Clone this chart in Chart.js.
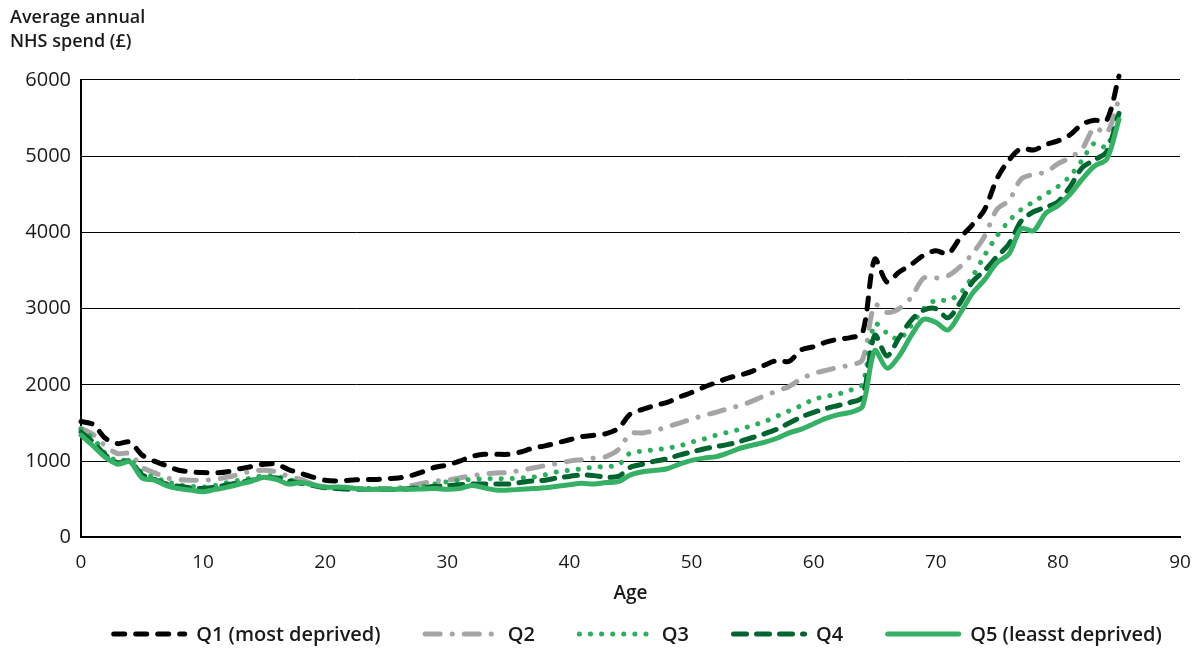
<!DOCTYPE html>
<html>
<head>
<meta charset="utf-8">
<script src="https://cdn.jsdelivr.net/npm/chart.js@4/dist/chart.umd.min.js"></script>
<style>
    html, body { margin: 0; padding: 0; background: #fff; }
    #wrap { width: 1199px; height: 649px; position: relative; }
</style>
</head>
<body>
<div id="wrap"><canvas id="spendChart"></canvas></div>
<script>
// Age in years (x axis)
const ages = [
    0, 1, 2, 3, 4, 5, 6, 7, 8, 9, 10, 11, 12, 13, 14, 15, 16, 17, 18, 19,
    20, 21, 22, 23, 24, 25, 26, 27, 28, 29, 30, 31, 32, 33, 34, 35, 36, 37, 38, 39,
    40, 41, 42, 43, 44, 45, 46, 47, 48, 49, 50, 51, 52, 53, 54, 55, 56, 57, 58, 59,
    60, 61, 62, 63, 64, 65, 66, 67, 68, 69, 70, 71, 72, 73, 74, 75, 76, 77, 78, 79,
    80, 81, 82, 83, 84, 85
];

// Average annual NHS spend (£) by deprivation quintile
const q1 = [
    1520, 1480, 1300, 1230, 1250, 1080, 1000, 940, 880, 860, 850, 845, 860, 900, 930, 960, 960, 890, 840, 790,
    750, 740, 750, 760, 760, 770, 780, 810, 860, 920, 950, 1000, 1060, 1090, 1090, 1090, 1120, 1170, 1200, 1240,
    1280, 1320, 1340, 1360, 1430, 1620, 1680, 1730, 1770, 1840, 1900, 1970, 2030, 2090, 2130, 2180, 2260, 2320, 2310, 2460,
    2500, 2560, 2600, 2620, 2680, 3650, 3350, 3480, 3580, 3700, 3760, 3720, 3930, 4100, 4300, 4700, 4950, 5100, 5080, 5150,
    5200, 5280, 5420, 5470, 5470, 6050
];
const q2 = [
    1430, 1350, 1200, 1100, 1100, 920, 850, 780, 760, 750, 750, 760, 790, 830, 870, 880, 860, 800, 760, 700,
    650, 640, 640, 640, 630, 640, 650, 680, 710, 740, 750, 780, 810, 830, 845, 850, 880, 910, 940, 970,
    1000, 1020, 1040, 1060, 1150, 1360, 1370, 1400, 1450, 1500, 1550, 1600, 1640, 1690, 1730, 1790, 1860, 1920, 1980, 2080,
    2150, 2190, 2230, 2260, 2330, 3050, 2950, 3000, 3150, 3400, 3400, 3430, 3550, 3720, 3950, 4300, 4420, 4700, 4760, 4790,
    4900, 4980, 5100, 5370, 5300, 5750
];
const q3 = [
    1420, 1300, 1100, 1000, 1020, 850, 790, 730, 690, 670, 660, 680, 720, 750, 780, 810, 800, 760, 720, 690,
    660, 650, 640, 640, 640, 640, 640, 650, 670, 700, 730, 750, 760, 770, 770, 770, 780, 790, 820, 860,
    880, 900, 920, 930, 950, 1110, 1130, 1150, 1170, 1200, 1250, 1290, 1340, 1380, 1420, 1470, 1520, 1590, 1660, 1730,
    1810, 1850, 1880, 1930, 2010, 2800, 2680, 2600, 2780, 3000, 3110, 3110, 3200, 3420, 3700, 3950, 4150, 4300, 4400, 4500,
    4600, 4740, 4950, 5170, 5120, 5600
];
const q4 = [
    1380, 1250, 1080, 980, 1000, 820, 760, 700, 670, 650, 640, 660, 690, 720, 750, 780, 780, 740, 710, 680,
    650, 640, 630, 630, 630, 630, 630, 640, 650, 670, 680, 690, 700, 700, 700, 700, 720, 740, 750, 780,
    800, 820, 810, 790, 800, 920, 960, 1000, 1030, 1080, 1120, 1160, 1190, 1220, 1260, 1310, 1360, 1420, 1500, 1580,
    1640, 1690, 1730, 1770, 1840, 2650, 2380, 2620, 2850, 2980, 3000, 2880, 3080, 3350, 3500, 3680, 3850, 4150, 4270, 4330,
    4400, 4600, 4850, 4950, 5060, 5560
];
const q5 = [
    1340, 1200, 1050, 960, 990, 780, 750, 680, 640, 620, 600, 630, 660, 700, 740, 790, 760, 700, 720, 690,
    660, 660, 650, 630, 630, 630, 630, 630, 635, 640, 630, 640, 680, 650, 620, 620, 630, 640, 650, 670,
    690, 710, 700, 720, 730, 820, 860, 880, 900, 960, 1010, 1040, 1060, 1110, 1170, 1210, 1250, 1300, 1370, 1420,
    1490, 1560, 1610, 1640, 1720, 2450, 2220, 2380, 2650, 2860, 2820, 2720, 2940, 3200, 3380, 3600, 3720, 4050, 4020, 4250,
    4350, 4500, 4700, 4870, 4960, 5480
];

const seriesNames = ['Q1 (most deprived)', 'Q2', 'Q3', 'Q4', 'Q5 (leasst deprived)'];
const yTicks = [0, 1000, 2000, 3000, 4000, 5000, 6000];
const xTicks = [0, 10, 20, 30, 40, 50, 60, 70, 80, 90];

const fontFamily = "'Open Sans', 'Noto Sans', sans-serif";
const textColor = '#1a1a1a';

function toPoints(values) {
    return values.map((v, i) => ({ x: ages[i], y: v }));
}

// line looks per quintile
const styles = [
    { color: '#000000', dash: [11, 11] },
    { color: '#a5a5a5', dash: [15, 12, 0.1, 12] },
    { color: '#2eac5f', dash: [0.1, 11] },
    { color: '#00642f', dash: [13, 10] },
    { color: '#35b064', dash: [] }
];

const allSeries = [q1, q2, q3, q4, q5];
const datasets = allSeries.map((vals, i) => ({
    label: seriesNames[i],
    data: toPoints(vals),
    borderColor: styles[i].color,
    backgroundColor: styles[i].color,
    borderWidth: 5,
    borderDash: styles[i].dash,
    borderCapStyle: 'round',
    borderJoinStyle: 'round',
    pointRadius: 0,
    tension: 0.3,
    fill: false,
    clip: 8,
    order: 5 - i
}));

// Legend drawn under the axis title, with the dashed sample lines
const legendLines = {
    id: 'legendLines',
    afterDraw(chart) {
        const c = chart.ctx;
        const lineLen = 76, gapText = 9, gapItem = 42;
        c.save();
        c.font = '600 20px ' + fontFamily;
        const widths = seriesNames.map(n => c.measureText(n).width);
        const total = widths.reduce((a, w) => a + lineLen + gapText + w, 0) + gapItem * (seriesNames.length - 1);
        const area = chart.chartArea;
        let x = (area.left + area.right) / 2 + 6 - total / 2;
        const y = chart.height - 15;
        chart.data.datasets.forEach((ds, i) => {
            c.beginPath();
            c.strokeStyle = ds.borderColor;
            c.lineWidth = ds.borderWidth;
            c.lineCap = 'round';
            c.setLineDash(ds.borderDash);
            c.moveTo(x + 2.5, y);
            c.lineTo(x + lineLen - 2.5, y);
            c.stroke();
            c.setLineDash([]);
            c.fillStyle = textColor;
            c.textBaseline = 'middle';
            c.textAlign = 'left';
            c.fillText(seriesNames[i], x + lineLen + gapText, y + 1);
            x += lineLen + gapText + widths[i] + gapItem;
        });
        c.restore();
    }
};

const ctx = document.getElementById('spendChart');
new Chart(ctx, {
    type: 'line',
    data: { datasets: datasets },
    plugins: [legendLines],
    options: {
        responsive: true,
        maintainAspectRatio: false,
        animation: false,
        layout: { padding: { left: 10, right: 19, top: 0, bottom: 44 } },
        scales: {
            x: {
                type: 'linear',
                min: 0,
                max: 90,
                afterBuildTicks: (axis) => { axis.ticks = xTicks.map(v => ({ value: v })); },
                ticks: {
                    color: textColor,
                    font: { family: fontFamily, size: 19 },
                    padding: 6
                },
                grid: { display: false },
                border: { display: true, color: '#000', width: 2 },
                title: {
                    display: true,
                    text: 'Age',
                    color: textColor,
                    font: { family: fontFamily, size: 19, weight: '600' },
                    padding: { top: 2, bottom: 0 }
                }
            },
            y: {
                min: 0,
                max: 6000,
                afterBuildTicks: (axis) => { axis.ticks = yTicks.map(v => ({ value: v })); },
                afterFit: (axis) => { axis.width = 71; },
                ticks: {
                    color: textColor,
                    font: { family: fontFamily, size: 20 },
                    padding: 10,
                    callback: (v) => String(v)
                },
                grid: { color: '#000', lineWidth: 1, drawTicks: false },
                border: { display: true, color: '#000', width: 2 }
            }
        },
        plugins: {
            title: {
                display: true,
                text: ['Average annual', 'NHS spend (£)'],
                align: 'start',
                color: textColor,
                font: { family: fontFamily, size: 18, weight: '600', lineHeight: 1.33 },
                padding: { top: 6, bottom: 26 }
            },
            legend: { display: false },
            tooltip: { enabled: false }
        }
    }
});
</script>
</body>
</html>
